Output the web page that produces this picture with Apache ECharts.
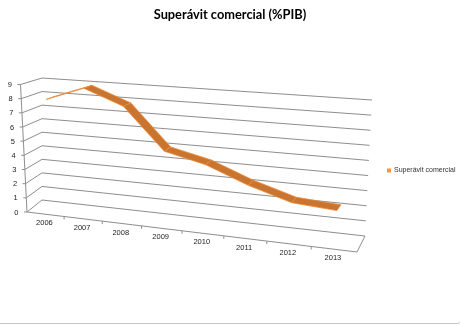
<!DOCTYPE html>
<html><head><meta charset="utf-8">
<script src="https://cdn.jsdelivr.net/npm/echarts@6/dist/echarts.min.js"></script>
<style>html,body{margin:0;padding:0;background:#fff}#c{width:460px;height:325px}</style>
</head><body><div id="c"></div>
<script>
// ---- data ----
const chartTitle = 'Superávit comercial (%PIB)';
const seriesName = 'Superávit comercial';
const categories = ['2006', '2007', '2008', '2009', '2010', '2011', '2012', '2013'];
const values = [7.9, 8.9, 7.85, 5.0, 4.35, 3.25, 2.4, 2.2];
const yTicks = [0, 1, 2, 3, 4, 5, 6, 7, 8, 9];

// ---- 3D-look projection (layout only) ----
const V = {
  FL0: [27, 212], FR0: [357, 252], FL9: [20.5, 84.5], FR9: [357, 111],
  BL0: [42, 200], BR0: [365, 236], BL9: [42, 78], BR9: [372, 100], r: 1.128
};
const D0 = 0.3, D1 = 0.7;
function lerp(a, b, t) { return [a[0] + (b[0] - a[0]) * t, a[1] + (b[1] - a[1]) * t]; }
function warp(u) { return u / (u + V.r * (1 - u)); }
function proj(u, w, d) {
  const s = warp(u);
  const f = lerp(lerp(V.FL0, V.FR0, s), lerp(V.FL9, V.FR9, s), w);
  const b = lerp(lerp(V.BL0, V.BR0, s), lerp(V.BL9, V.BR9, s), w);
  return lerp(f, b, d);
}
function norm(cs, p) { return [(p[0] - cs.x) / cs.width, (cs.y + cs.height - p[1]) / cs.height]; }

const GRID = '#8e8e8e';
const LABEL_FONT = '7.5px "Liberation Sans", Arial, sans-serif';

const chart = echarts.init(document.getElementById('c'), null, { renderer: 'canvas' });
chart.setOption({
  backgroundColor: '#fff',
  animation: false,
  title: {
    text: chartTitle, left: 'center', top: 3,
    textStyle: { fontFamily: 'Lato', fontWeight: 'bold', fontSize: 12.8, color: '#000' }
  },
  legend: {
    data: [seriesName], left: 387, top: 167, icon: 'rect', itemWidth: 4, itemHeight: 4,
    itemGap: 0, padding: 0,
    textStyle: { fontSize: 7, fontFamily: 'Liberation Sans', color: '#333', padding: [0, 0, 0, -2] }
  },
  grid: { left: 27, top: 84, width: 330, height: 128 },
  xAxis: { type: 'category', data: categories, show: false, boundaryGap: true },
  yAxis: { type: 'value', min: 0, max: 9, interval: 1, show: false },
  graphic: [{
    type: 'rect', shape: { x: -5, y: -10, width: 465.5, height: 333.5, r: 3 },
    style: { fill: null, stroke: '#c6c6c6', lineWidth: 1 }, silent: true, z: 100
  }],
  series: [
    {
      name: 'walls', type: 'custom', coordinateSystem: 'cartesian2d', silent: true, z: 1,
      data: yTicks.map(v => [0, v]),
      encode: { x: 0, y: 1 },
      renderItem: function (params, api) {
        const cs = params.coordSys;
        const w = norm(cs, api.coord([0, api.value(1)]))[1];
        const fl = proj(0, w, 0), bl = proj(0, w, 1), br = proj(1, w, 1);
        return {
          type: 'group', children: [
            { type: 'polyline', shape: { points: [fl, bl, br] }, style: { stroke: GRID, lineWidth: 1, fill: null } },
            { type: 'line', shape: { x1: fl[0] - 3, y1: fl[1], x2: fl[0], y2: fl[1] }, style: { stroke: GRID, lineWidth: 1 } },
            {
              type: 'text', x: fl[0] - 8.5, y: fl[1] + 0.5,
              style: { text: String(api.value(1)), font: LABEL_FONT, fill: '#222', align: 'right', verticalAlign: 'middle', textAlign: 'right', textVerticalAlign: 'middle' }
            }
          ]
        };
      }
    },
    {
      name: 'floor', type: 'custom', coordinateSystem: 'cartesian2d', silent: true, z: 1,
      data: categories.map((c, i) => [i, 0]),
      encode: { x: 0, y: 1 },
      renderItem: function (params, api) {
        const cs = params.coordSys;
        const i = api.value(0);
        const n = norm(cs, api.coord([i, 0]));
        const uc = n[0];
        const half = 0.5 / categories.length;
        const children = [];
        const p = proj(uc, 0, 0);
        children.push({
          type: 'text', x: p[0] - 1, y: p[1] + 9,
          style: { text: categories[i], font: LABEL_FONT, fill: '#222', align: 'center', verticalAlign: 'middle', textAlign: 'center', textVerticalAlign: 'middle' }
        });
        const tp = proj(uc + half, 0, 0);
        if (i < categories.length - 1) {
          children.push({ type: 'line', shape: { x1: tp[0], y1: tp[1], x2: tp[0], y2: tp[1] + 3 }, style: { stroke: GRID, lineWidth: 1 } });
        }
        if (i === 0) {
          const a = proj(0, 0, 0), b = proj(1, 0, 0), c = proj(1, 0, 1), t = proj(0, 1, 0);
          children.push({ type: 'polyline', shape: { points: [a, b, c] }, style: { stroke: GRID, lineWidth: 1, fill: null } });
          children.push({ type: 'line', shape: { x1: a[0], y1: a[1], x2: t[0], y2: t[1] }, style: { stroke: GRID, lineWidth: 1 } });
        }
        return { type: 'group', children: children };
      }
    },
    {
      name: seriesName, type: 'custom', coordinateSystem: 'cartesian2d', z: 5,
      itemStyle: { color: '#F79646' },
      data: values.slice(0, -1).map((v, i) => [i, v, values[i + 1]]),
      encode: { x: 0, y: 1 },
      renderItem: function (params, api) {
        const cs = params.coordSys;
        const i = api.value(0);
        const a = norm(cs, api.coord([i, api.value(1)]));
        const b = norm(cs, api.coord([i + 1, api.value(2)]));
        const pts = [proj(a[0], a[1], D0), proj(b[0], b[1], D0), proj(b[0], b[1], D1), proj(a[0], a[1], D1)];
        return {
          type: 'polygon', shape: { points: pts },
          style: { fill: '#C9752F', stroke: '#EC8B3B', lineWidth: 0.8 }
        };
      }
    }
  ]
});
</script></body></html>
